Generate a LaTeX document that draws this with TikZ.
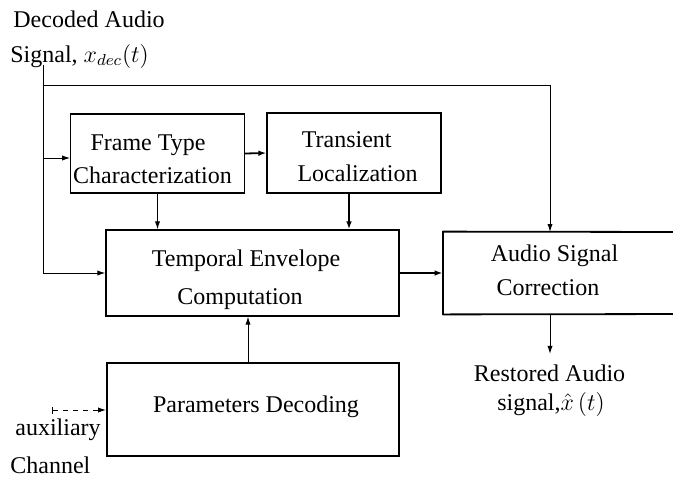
\documentclass[tikz,border=0pt]{standalone}
\usepackage{fontspec}
\setmainfont{Liberation Serif}
\usetikzlibrary{arrows.meta,calc}
\begin{document}
\begin{tikzpicture}[x=0.5pt,y=-0.5pt,
  font=\fontsize{12}{14}\selectfont,
  boxshape/.style 2 args={inner sep=0pt, minimum width=#1*0.5pt, minimum height=#2*0.5pt},
  box/.style 2 args={boxshape={#1}{#2}, draw, line width=0.6pt},
  heavybox/.style={line width=0.9pt},
  txt/.style={anchor=base, inner sep=0pt},
  txtl/.style={anchor=base west, inner sep=0pt},
  wire/.style={line width=0.5pt, -{Latex[length=4pt,width=2.6pt]}},
  heavywire/.style={line width=0.9pt, -{Latex[length=4pt,width=2.8pt]}},
  auxwire/.style={line width=0.5pt, dash pattern=on 2.5pt off 2.5pt, {Bar[width=3.5pt]}-{Latex[length=4pt,width=2.6pt]}}]
\useasboundingbox (0,0) rectangle (673,478);

% boxes
\node[box={173.5}{79}] (ft) at (157.5,153.5) {};
\node[box={174}{80}] (tl) at (354,153) {};
\node[box={293}{86}] (te) at (252.5,273) {};
\node[boxshape={222}{82}] (as) at (554,273) {};
\node[box={292}{93}, heavybox] (pd) at (253,409.5) {};
\coordinate (asne) at (690,232);
\coordinate (asse) at (690,314);
\draw[line width=0.9pt] (as.north west) -- (asne);
\draw[line width=0.9pt] (as.south west) -- (asse);
\draw[line width=0.9pt, line cap=rect] (as.north west) -- (as.south west);

% texts
\node[txtl] (d1) at (13,27) {Decoded Audio};
\node[txtl] (d2) at (10,62) {Signal, $x_{dec}(t)$};
\node[txt] (ft1) at (148,150) {Frame Type};
\node[txt] (ft2) at (152.5,183) {Characterization};
\node[txt] (tl1) at (346.7,147.3) {Transient};
\node[txt] (tl2) at (357.5,181.7) {Localization};
\node[txt] (te1) at (246,266) {Temporal Envelope};
\node[txt] (te2) at (240,304) {Computation};
\node[txt] (as1) at (554.5,261.7) {Audio Signal};
\node[txt] (as2) at (548,295) {Correction};
\node[txt] (pd1) at (256,412.7) {Parameters Decoding};
\node[txt] (r1) at (549.5,381) {Restored Audio};
\node[txt] (r2) at (551,410) {signal,$\hat{x}\,(t)$};
\node[txtl] (a1) at (15,435) {auxiliary};
\node[txtl] (a2) at (10,473) {Channel};

% connectors
\coordinate (in) at (43,65);
\coordinate (j0) at (43,85);
\coordinate (j1) at (43,158);
\coordinate (asin) at (550,232);
\coordinate (asout) at (550,314);
\coordinate (aux) at (52,410);

\draw[wire] (in) |- (te.west);
\draw[wire] (j1) -- (j1 -| ft.west);
\draw[wire] (j0) -| (asin);
\draw[heavywire] (ft.east) -- (tl.west);
\draw[wire] (ft.south) -- (ft.south |- te.north);
\draw[heavywire] ([xshift=-2.5pt]tl.south) -- ([xshift=-2.5pt]tl.south |- te.north);
\draw[heavywire] (te.east) -- (as.west);
\draw[wire] ([xshift=-2.5pt]pd.north) -- ([xshift=-2.5pt]pd.north |- te.south);
\draw[wire] (asout) -- ([yshift=5pt]asout |- r1.north);
\draw[auxwire] (aux) -- (aux -| pd.west);
\end{tikzpicture}
\end{document}
